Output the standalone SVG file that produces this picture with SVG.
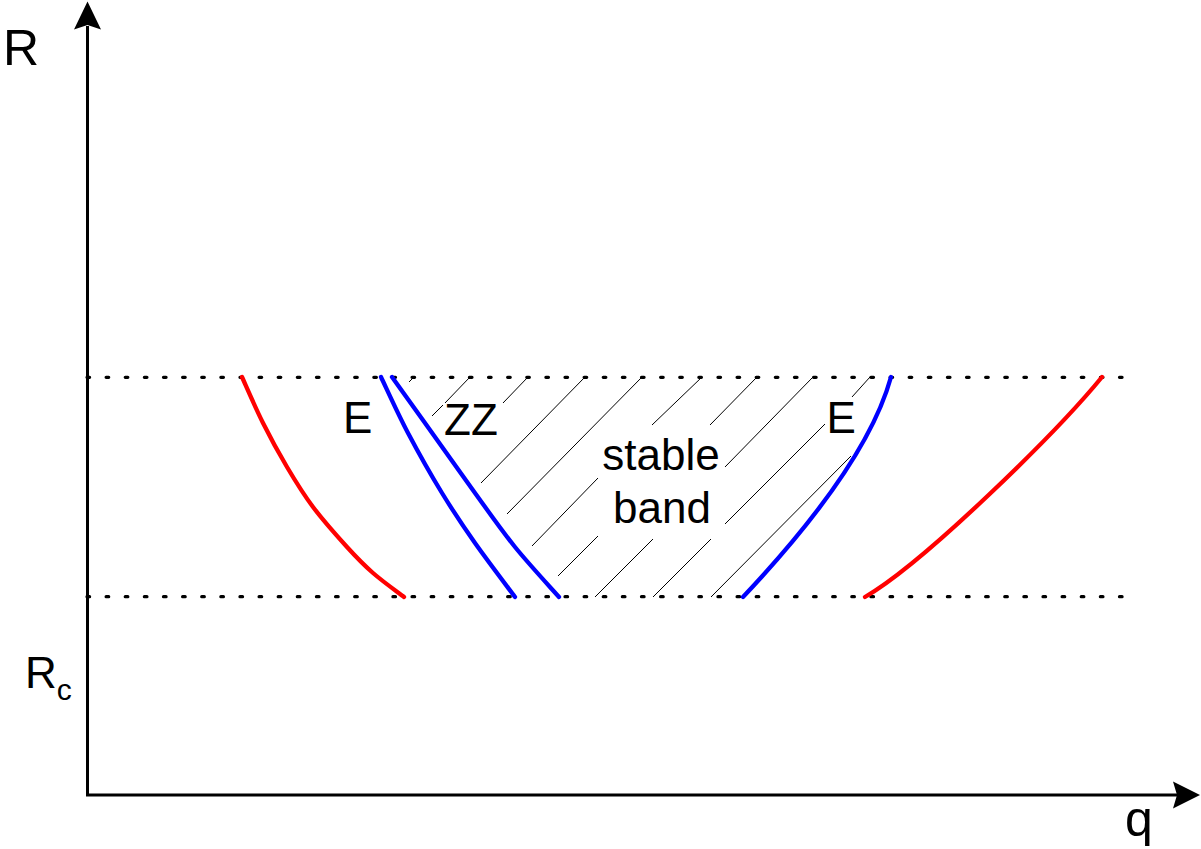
<svg xmlns="http://www.w3.org/2000/svg" width="1201" height="849" viewBox="0 0 1201 849">
<style>
.lbl{font-family:"Liberation Sans",Arial,sans-serif;font-size:44px;fill:#000}
.big{font-size:50px}
.dot{fill:none;stroke:#000;stroke-width:3.2;stroke-dasharray:2.6 16.52;stroke-linecap:round}
.hatch{fill:none;stroke:#000;stroke-width:1}
.red{fill:none;stroke:#FF0000;stroke-width:4.3;stroke-linecap:round}
.blue{fill:none;stroke:#0000FF;stroke-width:4.3;stroke-linecap:round}
.axis{fill:none;stroke:#000;stroke-width:3}
</style>
<rect width="1201" height="849" fill="#fff"/>
<g id="hatching" class="hatch">
<path d="M409,382 L413,378"/>
<path d="M432,416 L443,405 M445,403 L470,377"/>
<path d="M503,403 L528,377"/>
<path d="M481,483 L585,377"/>
<path d="M507,514 L642,377"/>
<path d="M532,546 L598,478 M652,425 L702,377"/>
<path d="M558,576 L598,536 M710,425 L757,377"/>
<path d="M595,597 L653,539 M725,467 L813,377"/>
<path d="M653,597 L711,539 M725,524 L825,424 M852,397 L870,377"/>
<path d="M711,597 L851,456"/>
</g>
<g id="bounds">
<path class="dot" d="M87,377.3 H1124"/>
<path class="dot" d="M87,596.7 H1124"/>
</g>
<g id="curves">
<path id="red-left" class="red" d="M242,377 C245.5,384.7 255.5,408 263,423 C270.5,438 278.7,453 287,467 C295.3,481 303,493.7 313,507 C323,520.3 337,536 347,547 C357,558 363.5,564.7 373,573 C382.5,581.3 398.8,593 404,597"/>
<path id="blue-e-left" class="blue" d="M381,377 C385.5,386.3 397.8,413.7 408,433 C418.2,452.3 430.8,474.7 442,493 C453.2,511.3 462.8,525.7 475,543 C487.2,560.3 508.3,588 515,597"/>
<path id="blue-zz" class="blue" d="M392,377 C397.5,384.7 411.2,403.7 425,423 C438.8,442.3 460,472.3 475,493 C490,513.7 501,529.7 515,547 C529,564.3 551.7,588.7 559,597"/>
<path id="blue-e-right" class="blue" d="M743,597 C792,545 869,457 891,377"/>
<path id="red-right" class="red" d="M865,597 C925,562 1057,432 1102,377"/>
</g>
<g id="axes">
<path class="axis" d="M87.5,26 V795 H1178"/>
<polygon points="87.5,1.5 101,29.5 87.5,25 74,29.5" fill="#000"/>
<polygon points="1200,795 1173,808.5 1177,795 1173,781.5" fill="#000"/>
</g>
<g id="labels">
<text class="lbl big" x="3" y="65">R</text>
<text class="lbl big" x="1125" y="836">q</text>
<text class="lbl" x="25" y="688">R<tspan font-size="30" dy="12">c</tspan></text>
<text class="lbl" x="343" y="433">E</text>
<text class="lbl" x="444" y="435">ZZ</text>
<text class="lbl" x="826.5" y="433">E</text>
<text class="lbl" x="661" y="470" text-anchor="middle">stable</text>
<text class="lbl" x="662" y="523" text-anchor="middle">band</text>
</g>
</svg>
